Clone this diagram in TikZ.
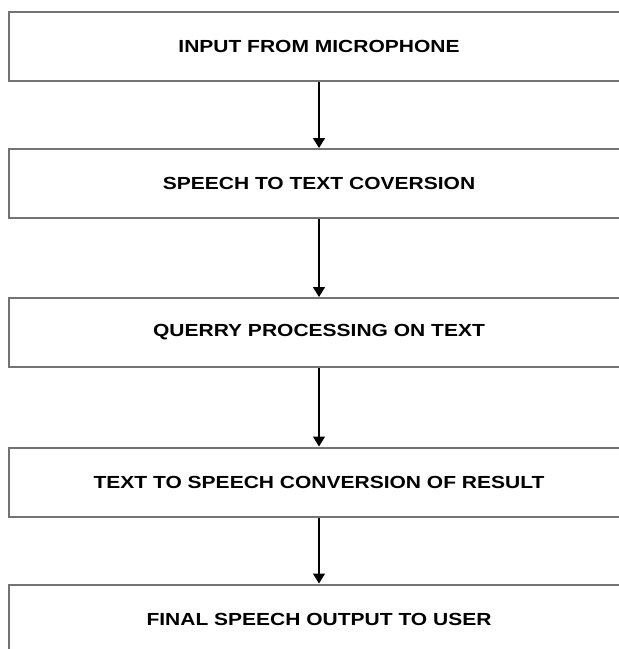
\documentclass[tikz,border=0pt]{standalone}
\usepackage{fontspec}
\newfontfamily\boxfont[FakeStretch=1.2]{Liberation Sans}
\usetikzlibrary{arrows.meta}
\begin{document}
\begin{tikzpicture}[x=1pt,y=-1pt,
    stage/.style={draw=black!55, line width=2pt, minimum width=620pt,
      minimum height=69pt, inner sep=0pt,
      font=\boxfont\bfseries\fontsize{17.5}{20}\selectfont},
    flow/.style={-{Triangle[width=12pt,length=10pt]}, line width=1.4pt}]
  \useasboundingbox (0,0) rectangle (619,649);
  \clip (0,0) rectangle (619,649);
  \draw
    (319,46) node[stage] (input){INPUT FROM MICROPHONE}
    (319,183.5) node[stage] (stt){SPEECH TO TEXT COVERSION}
    (319,332.5) node[stage] (query){QUERRY PROCESSING ON TEXT}
    (319,482) node[stage] (tts){TEXT TO SPEECH CONVERSION OF RESULT}
    (319,619) node[stage] (output){FINAL SPEECH OUTPUT TO USER};
  \begin{scope}[flow]
    \draw (input) to (stt);
    \draw (stt) to (query);
    \draw (query) to (tts);
    \draw (tts) to (output);
  \end{scope}
\end{tikzpicture}
\end{document}
